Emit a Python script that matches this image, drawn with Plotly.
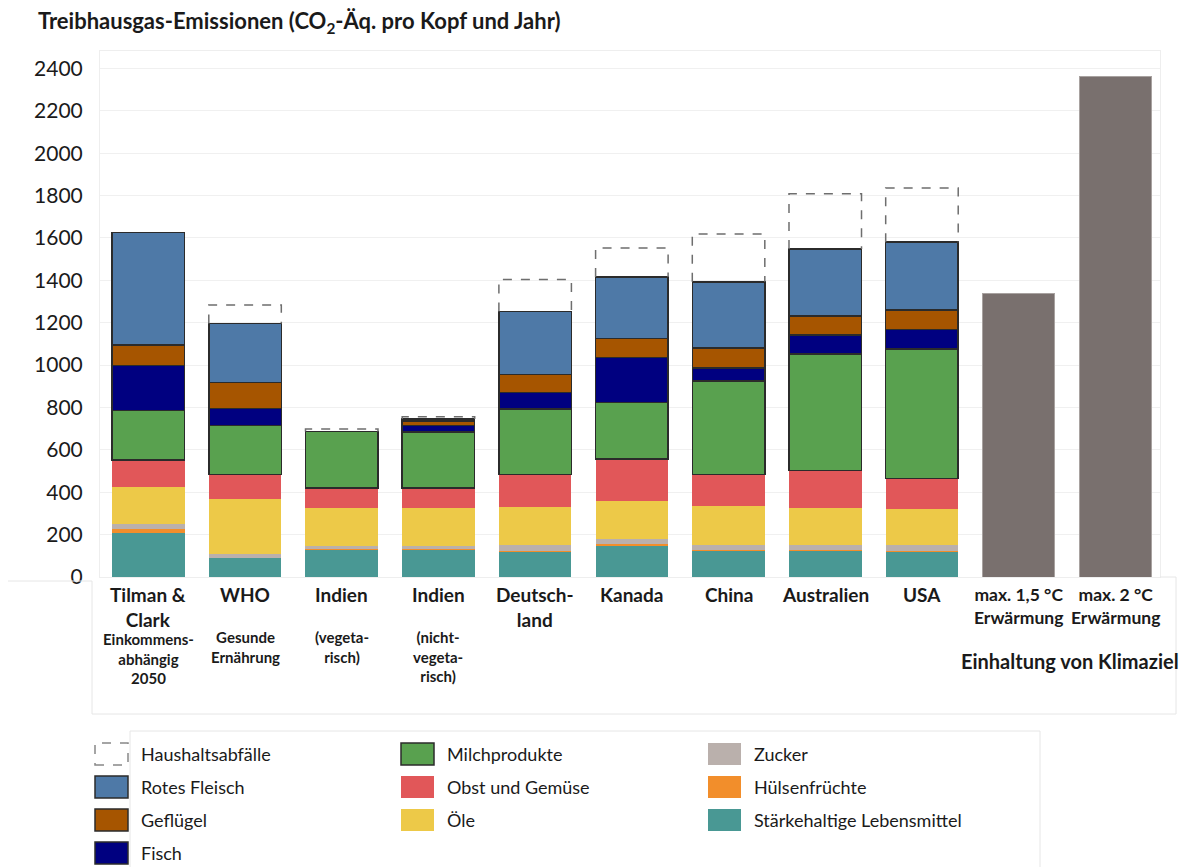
import plotly.graph_objects as go

# ---------------- data ----------------
main_labels = ["Tilman &<br>Clark", "WHO", "Indien", "Indien", "Deutsch-<br>land",
               "Kanada", "China", "Australien", "USA"]
sub_labels = ["Einkommens-<br>abhängig<br>2050", "Gesunde<br>Ernährung", "(vegeta-<br>risch)",
              "(nicht-<br>vegeta-<br>risch)", "", "", "", "", ""]

staerke   = [208,  90, 129, 129, 122, 150, 126, 126, 121]
huelsen   = [ 19,   0,   2,   2,   3,   4,   3,   3,   3]
zucker    = [ 23,  20,  17,  17,  26,  27,  24,  24,  25]
oele      = [175, 258, 178, 178, 179, 176, 180, 174, 173]
obst      = [128, 115,  94,  94, 153, 200, 150, 175, 142]
milch     = [232, 231, 267, 265, 310, 267, 442, 550, 611]
fisch     = [213,  81,   0,  30,  78, 212,  62,  89,  93]
gefluegel = [ 96, 123,   0,  22,  85,  89,  93,  91,  93]
rotes     = [531, 278,   0,   8, 297, 290, 313, 316, 319]
abfall    = [  0,  88,  11,  11, 151, 137, 225, 260, 255]

klima_labels = ["max. 1,5 °C<br>Erwärmung", "max. 2 °C<br>Erwärmung"]
klima_values = [1336, 2364]
klima_group = "Einhaltung von Klimaziel"

y_ticks = list(range(0, 2401, 200))

# ---------------- styling ----------------
FONT = "Lato"
TXT = "#1a1a1a"
W, H = 1186, 867
L, R, T, B = 100, 26, 51, 290
PW, PH = W - L - R, H - T - B
BARW = 0.75

def xp(px):
    return (px - L) / PW

def yp(py):
    return (H - B - py) / PH

series = [
    ("Stärkehaltige Lebensmittel", staerke, "#499894", False),
    ("Hülsenfrüchte", huelsen, "#f28e2b", False),
    ("Zucker", zucker, "#bab0ac", False),
    ("Öle", oele, "#edc948", False),
    ("Obst und Gemüse", obst, "#e15759", False),
    ("Milchprodukte", milch, "#59a14f", True),
    ("Fisch", fisch, "#000080", True),
    ("Geflügel", gefluegel, "#a65500", True),
    ("Rotes Fleisch", rotes, "#4e79a7", True),
]

n = len(main_labels)
xs = list(range(n))
xk = [n + i for i in range(len(klima_values))]

fig = go.Figure()
for name, vals, col, outlined in series:
    fig.add_trace(go.Bar(
        x=xs, y=vals, name=name, width=BARW, showlegend=False,
        marker=dict(color=col,
                    line=dict(color="#2b2b2b" if outlined else col,
                              width=1.5 if outlined else 0)),
    ))

fig.add_trace(go.Bar(
    x=xk, y=klima_values, width=BARW, showlegend=False, name=klima_group,
    marker=dict(color="#79706e", line=dict(color="#a8a2a0", width=1)),
))

# dashed outlines for household waste, computed from the stacks
shapes = []
for i in range(n):
    base = sum(s[1][i] for s in series)
    top = base + abfall[i]
    if abfall[i] <= 0:
        continue
    x0, x1 = xs[i] - BARW / 2, xs[i] + BARW / 2
    shapes.append(dict(type="path", xref="x", yref="y",
                       path=f"M {x0},{base} L {x0},{top} L {x1},{top} L {x1},{base}",
                       line=dict(color="#6e6e6e", width=1.5, dash="dash"), layer="above"))

annotations = []
# title
annotations.append(dict(text="Treibhausgas-Emissionen (CO<sub>2</sub>-Äq. pro Kopf und Jahr)",
                        xref="paper", yref="paper", x=xp(36), y=yp(22),
                        xanchor="left", yanchor="middle", showarrow=False,
                        font=dict(family=FONT, size=22, color=TXT, weight="bold")))
# category labels
for i in range(n):
    annotations.append(dict(text=f"<b>{main_labels[i]}</b>", xref="x", yref="paper",
                            x=xs[i], y=yp(581), xanchor="center", yanchor="top",
                            showarrow=False, align="center",
                            font=dict(family=FONT, size=19, color=TXT)))
    if sub_labels[i]:
        top_px = 628 if "<br>" in main_labels[i] else 626
        annotations.append(dict(text=f"<b>{sub_labels[i]}</b>", xref="x", yref="paper",
                                x=xs[i], y=yp(top_px), xanchor="center", yanchor="top",
                                showarrow=False, align="center",
                                font=dict(family=FONT, size=15, color=TXT)))
for j, lab in enumerate(klima_labels):
    annotations.append(dict(text=f"<b>{lab}</b>", xref="x", yref="paper",
                            x=xk[j], y=yp(582), xanchor="center", yanchor="top",
                            showarrow=False, align="center",
                            font=dict(family=FONT, size=17.5, color=TXT)))
annotations.append(dict(text=f"<b>{klima_group}</b>", xref="paper", yref="paper",
                        x=xp(1070), y=yp(661), xanchor="center", yanchor="middle",
                        showarrow=False, font=dict(family=FONT, size=20, color=TXT)))

# manual legend (large keys like the original)
legend_cols = [
    [("Haushaltsabfälle", None, "dash"), ("Rotes Fleisch", "#4e79a7", True),
     ("Geflügel", "#a65500", True), ("Fisch", "#000080", True)],
    [("Milchprodukte", "#59a14f", True), ("Obst und Gemüse", "#e15759", False),
     ("Öle", "#edc948", False)],
    [("Zucker", "#bab0ac", False), ("Hülsenfrüchte", "#f28e2b", False),
     ("Stärkehaltige Lebensmittel", "#499894", False)],
]
col_x = [95, 401, 708]
row_y = [743, 776, 809, 842]
for c, items in enumerate(legend_cols):
    for r, (name, col, style) in enumerate(items):
        x0, x1 = col_x[c], col_x[c] + 33
        y0, y1 = row_y[r], row_y[r] + 22
        if style == "dash":
            line = dict(color="#888888", width=1.5, dash="dash")
            fill = "rgba(0,0,0,0)"
        elif style:
            line = dict(color="#2b2b2b", width=1.5)
            fill = col
        else:
            line = dict(width=0)
            fill = col
        shapes.append(dict(type="rect", xref="paper", yref="paper",
                           x0=xp(x0), x1=xp(x1), y0=yp(y1), y1=yp(y0),
                           fillcolor=fill, line=line))
        annotations.append(dict(text=name, xref="paper", yref="paper",
                                x=xp(x1 + 11), y=yp((y0 + y1) / 2),
                                xanchor="left", yanchor="middle", showarrow=False,
                                font=dict(family=FONT, size=18, color=TXT)))

# faint frame lines of the original layout
faint = dict(color="#e6e6e6", width=1)
for (ax0, ay0, ax1, ay1) in [(8, 581, 92, 581), (92, 581, 92, 714), (92, 714, 1176, 714),
                             (1176, 577, 1176, 714), (1160, 577, 1176, 577),
                             (130, 731, 1040, 731), (130, 731, 130, 867), (1040, 731, 1040, 867)]:
    shapes.append(dict(type="line", xref="paper", yref="paper",
                       x0=xp(ax0), x1=xp(ax1), y0=yp(ay0), y1=yp(ay1), line=faint))

fig.update_layout(
    width=W, height=H,
    margin=dict(l=L, r=R, t=T, b=B),
    barmode="stack",
    plot_bgcolor="white", paper_bgcolor="white",
    font=dict(family=FONT, color=TXT),
    shapes=shapes, annotations=annotations,
    showlegend=False,
    xaxis=dict(range=[-0.5, -0.5 + PW / 96.7], showticklabels=False, showgrid=False,
               zeroline=False, showline=True, linecolor="#eeeeee", mirror=True, ticks=""),
    yaxis=dict(range=[0, 2482], tickvals=y_ticks, ticktext=[str(v) for v in y_ticks],
               showgrid=True, gridcolor="#f0f0f0", gridwidth=1, zeroline=False,
               showline=True, linecolor="#eeeeee", mirror=True, ticks="",
               ticklabelstandoff=12, tickfont=dict(family=FONT, size=21, color=TXT)),
)

fig.write_html("out.html")
